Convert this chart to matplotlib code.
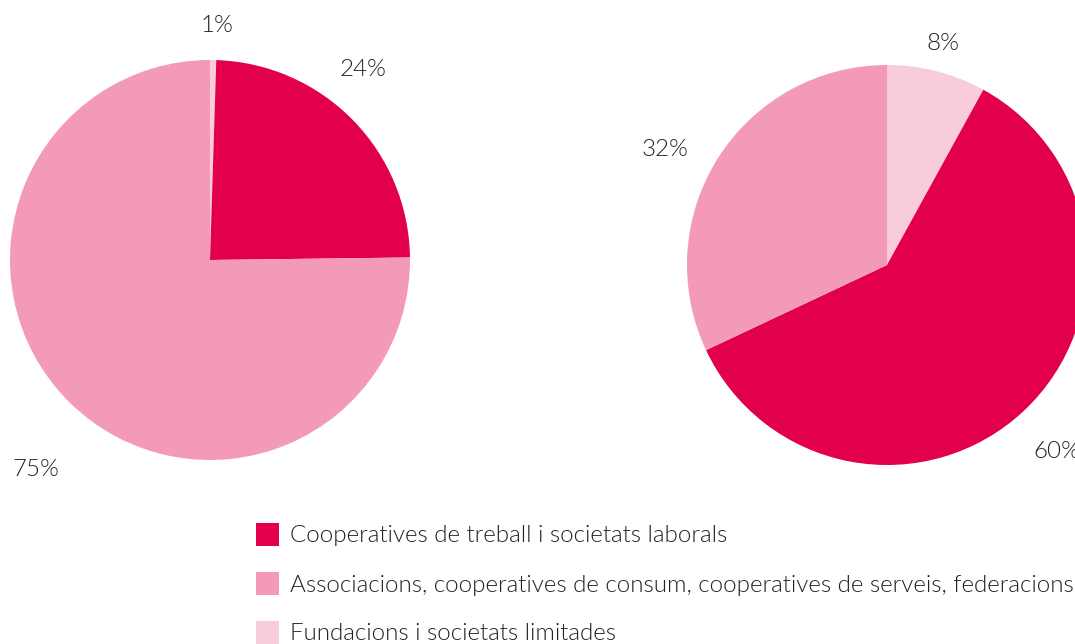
import matplotlib
matplotlib.use("Agg")
import matplotlib.pyplot as plt
from matplotlib import font_manager
from matplotlib.patches import Rectangle

categories = [
    "Cooperatives de treball i societats laborals",
    "Associacions, cooperatives de consum, cooperatives de serveis, federacions",
    "Fundacions i societats limitades",
]
colors = ["#E2004A", "#F29AB7", "#F8CCDA"]

# left pie, clockwise from top: fundacions, cooperatives treball, associacions
left_values = [0.5, 24.3, 75.2]
left_order = [2, 0, 1]
left_labels = ["1%", "24%", "75%"]

# right pie, clockwise from top: fundacions, cooperatives treball, associacions
right_values = [8, 60, 32]
right_order = [2, 0, 1]
right_labels = ["8%", "60%", "32%"]

# pick a light weight face if one is installed
font_prop = None
for fam in ["Lato", "Roboto", "Open Sans", "Noto Sans", "Inter"]:
    hits = [f for f in font_manager.fontManager.ttflist
            if f.name == fam and f.weight == 300 and f.style == "normal"]
    if hits:
        font_prop = font_manager.FontProperties(fname=hits[0].fname)
        break
if font_prop is None:
    font_prop = font_manager.FontProperties(family="Lato")

W, H = 1075, 644
fig = plt.figure(figsize=(W / 100, H / 100), dpi=100)
fig.patch.set_facecolor("white")

# size the text so the long legend line spans like in the original
probe = fig.text(0, 0, categories[1], fontproperties=font_prop, fontsize=18)
fig.canvas.draw()
w = probe.get_window_extent().width
probe.remove()
fsize = 18 * 782 / w
font_prop.set_size(fsize)

txt = dict(fontproperties=font_prop, color="#222222")

def pie_axes(cx, cy, r):
    return fig.add_axes([(cx - r) / W, (H - cy - r) / H, 2 * r / W, 2 * r / H])

ax1 = pie_axes(210, 260, 200)
ax1.pie(left_values, colors=[colors[i] for i in left_order], startangle=90,
        counterclock=False, radius=1, wedgeprops=dict(linewidth=0))
ax1.set_xlim(-1, 1); ax1.set_ylim(-1, 1); ax1.set_aspect("equal")
ax1.axis("off")
pos1 = [(0.033, 1.175, "center"), (0.765, 0.95, "center"), (-0.87, -1.05, "center")]
for (x, y, ha), lab in zip(pos1, left_labels):
    ax1.text(x, y, lab, ha=ha, va="center", clip_on=False, **txt)

ax2 = pie_axes(887, 265, 200)
ax2.pie(right_values, colors=[colors[i] for i in right_order], startangle=90,
        counterclock=False, radius=1, wedgeprops=dict(linewidth=0))
ax2.set_xlim(-1, 1); ax2.set_ylim(-1, 1); ax2.set_aspect("equal")
ax2.axis("off")
pos2 = [(0.28, 1.11, "center"), (0.73, -0.935, "left"), (-1.11, 0.575, "center")]
for (x, y, ha), lab in zip(pos2, right_labels):
    ax2.text(x, y, lab, ha=ha, va="center", clip_on=False, **txt)

# legend
for i, (name, col) in enumerate(zip(categories, colors)):
    yc = 534 + i * 49
    fig.add_artist(Rectangle((256 / W, (H - yc - 11.5) / H), 23 / W, 23 / H,
                             transform=fig.transFigure, facecolor=col, linewidth=0))
    fig.text(290 / W, (H - yc - 2) / H, name, ha="left", va="center", **txt)

fig.savefig("out.png", dpi=100)
